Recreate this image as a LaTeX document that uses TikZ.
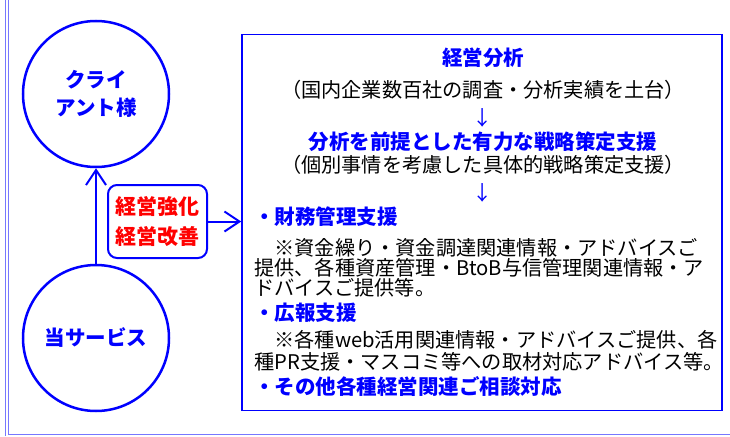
\documentclass[tikz,border=0pt]{standalone}
\usepackage{fontspec}
\usepackage{xcolor}
\setmainfont{Noto Sans CJK JP}
\usetikzlibrary{arrows.meta}
\definecolor{zuiblue}{HTML}{0000FF}
\definecolor{zuired}{HTML}{FF0000}
\definecolor{framelight}{HTML}{7777FF}

\begin{document}
\begin{tikzpicture}[x=1pt, y=-1pt,
    maru/.style={circle, draw=zuiblue, line width=2.5pt, minimum size=146pt, inner sep=0pt,
        align=center, text=zuiblue, font=\bfseries\fontsize{20.5pt}{28pt}\selectfont},
    arr/.style={draw=zuiblue, line width=2pt, -{Straight Barb[length=15pt, width=20pt]}},
    midasi/.style={inner sep=0pt, text=zuiblue, font=\bfseries\fontsize{20.5pt}{20pt}\selectfont},
    honbun/.style={inner sep=0pt, text=black, font=\fontsize{20.2pt}{20pt}\selectfont}]
    \useasboundingbox (0,0) rectangle (730,436);
    % outer frame
    \draw[framelight, line width=1pt] (5,0) -- (5,436);
    \draw[framelight, line width=1pt] (8.5,0) -- (8.5,434) -- (730,434);
    % circles
    \node[maru] (client) at (96,94) {クライ\\アント様};
    \node[maru] (service) at (96,338) {当サービス};
    \draw[arr] (service) -- (client);
    % support box
    \node[draw=zuiblue, line width=1.5pt, minimum width=480pt, minimum height=376pt, inner sep=0pt]
        (shien) at (482,222.5) {};
    \node[draw=zuiblue, fill=white, line width=2pt, rounded corners=9pt, minimum width=99pt,
        minimum height=73pt, inner sep=0pt, align=center, text=zuired,
        font=\bfseries\fontsize{21pt}{30pt}\selectfont] (kyoka) at (157.5,221.5) {経営強化\\経営改善};
    \draw[arr] (kyoka.east) -- (shien.west |- kyoka.east);
    % texts in the box
    \node[midasi, anchor=base] (bunseki) at (483,65.5) {経営分析};
    \node[honbun, anchor=base] (dodai) at (483,97.5) {（国内企業数百社の調査・分析実績を土台）};
    \node[honbun, anchor=base, text=zuiblue] (yaji1) at (483,125.5) {↓};
    \node[midasi, anchor=base] (senryaku) at (483,149.5) {分析を前提とした有力な戦略策定支援};
    \node[honbun, anchor=base] (kobetsu) at (483,172.5) {（個別事情を考慮した具体的戦略策定支援）};
    \node[honbun, anchor=base, text=zuiblue] (yaji2) at (483,200.5) {↓};
    \node[midasi, anchor=base west] (zaimu) at (254,224.5) {・財務管理支援};
    \node[honbun, anchor=base west] (zaimu1) at (254,255.5) {　※資金繰り・資金調達関連情報・アドバイスご};
    \node[honbun, anchor=base west] (zaimu2) at (254,275.5) {提供、各種資産管理・BtoB与信管理関連情報・ア};
    \node[honbun, anchor=base west] (zaimu3) at (254,295.5) {ドバイスご提供等。};
    \node[midasi, anchor=base west] (koho) at (254,320.5) {・広報支援};
    \node[honbun, anchor=base west] (koho1) at (254,347.5) {　※各種web活用関連情報・アドバイスご提供、各};
    \node[honbun, anchor=base west] (koho2) at (254,369.5) {種PR支援・マスコミ等への取材対応アドバイス等。};
    \node[midasi, anchor=base west] (sonota) at (254,394.5) {・その他各種経営関連ご相談対応};
\end{tikzpicture}
\end{document}
